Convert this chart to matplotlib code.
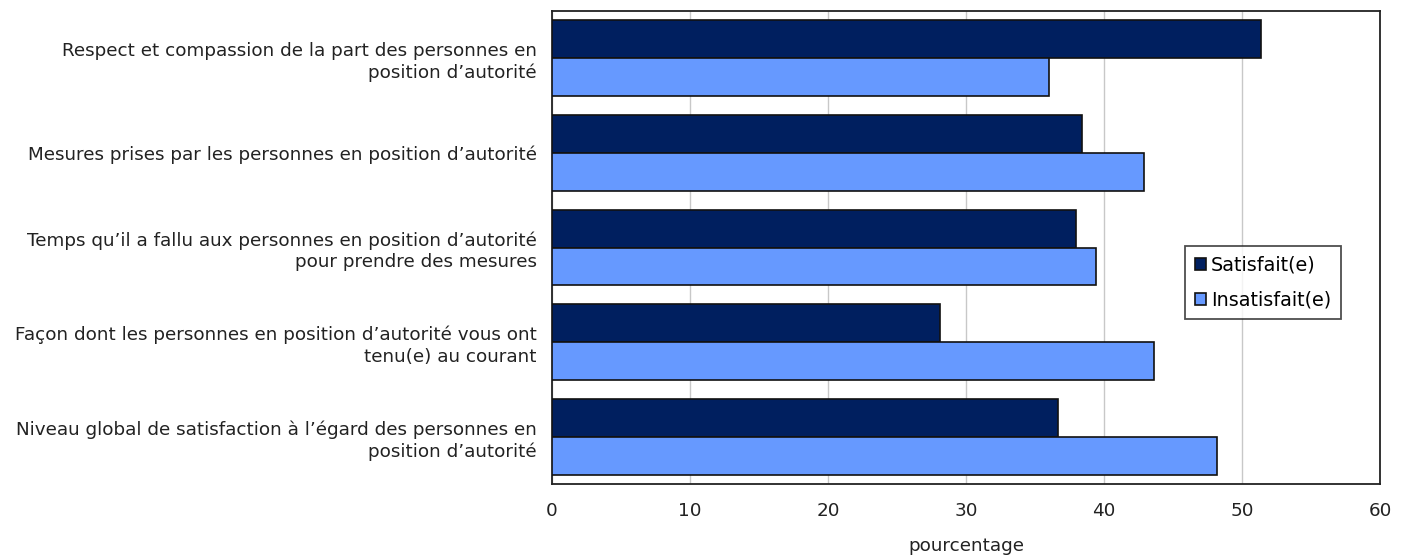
import numpy as np
import matplotlib.pyplot as plt

# Satisfaction à l'égard des personnes en position d'autorité
categories = [
    "Respect et compassion de la part des personnes en\nposition d\u2019autorit\u00e9",
    "Mesures prises par les personnes en position d\u2019autorit\u00e9",
    "Temps qu\u2019il a fallu aux personnes en position d\u2019autorit\u00e9\npour prendre des mesures",
    "Fa\u00e7on dont les personnes en position d\u2019autorit\u00e9 vous ont\ntenu(e) au courant",
    "Niveau global de satisfaction \u00e0 l\u2019\u00e9gard des personnes en\nposition d\u2019autorit\u00e9",
]
satisfait = [51.4, 38.4, 38.0, 28.1, 36.7]
insatisfait = [36.0, 42.9, 39.4, 43.6, 48.2]

plt.rcParams['font.family'] = ['DejaVu Sans']
fs = 13.2

fig = plt.figure(figsize=(14.03, 5.58), dpi=100)
ax = fig.add_axes([552/1403, 1 - 484/558, (1380-552)/1403, (484-11)/558])

y = np.arange(len(categories))
h = 0.4
ax.barh(y - h/2, satisfait, height=h, color='#001f5f', edgecolor='#111111',
        linewidth=1.2, label='Satisfait(e)', zorder=3)
ax.barh(y + h/2, insatisfait, height=h, color='#6699ff', edgecolor='#111111',
        linewidth=1.2, label='Insatisfait(e)', zorder=3)

ax.set_ylim(len(categories) - 0.5, -0.5)
ax.set_xlim(0, 60)
ax.set_xticks(np.arange(0, 61, 10))
ax.set_yticks(y)
ax.set_yticklabels(categories, fontsize=fs, color='#222222', ha='right',
                   linespacing=1.25)
ax.tick_params(axis='y', length=0, pad=11)
ax.tick_params(axis='x', length=0, pad=13, labelsize=fs, labelcolor='#222222')
ax.xaxis.grid(True, color='#c8c8c8', linewidth=1, zorder=0)
for s in ax.spines.values():
    s.set_color('#222222')
    s.set_linewidth(1.3)
ax.set_xlabel('pourcentage', fontsize=fs, color='#222222', labelpad=12)

leg = ax.legend(loc='upper left', bbox_to_anchor=((1185-552)/828, 1 - (246-11)/473),
                fontsize=13.8, frameon=True, fancybox=False, handlelength=0.6,
                handleheight=0.6, handletextpad=0.25, borderpad=0.5, labelspacing=0.85,
                borderaxespad=0)
leg.get_frame().set_edgecolor('#222222')
leg.get_frame().set_linewidth(1.3)

fig.savefig('out.png', dpi=100)
